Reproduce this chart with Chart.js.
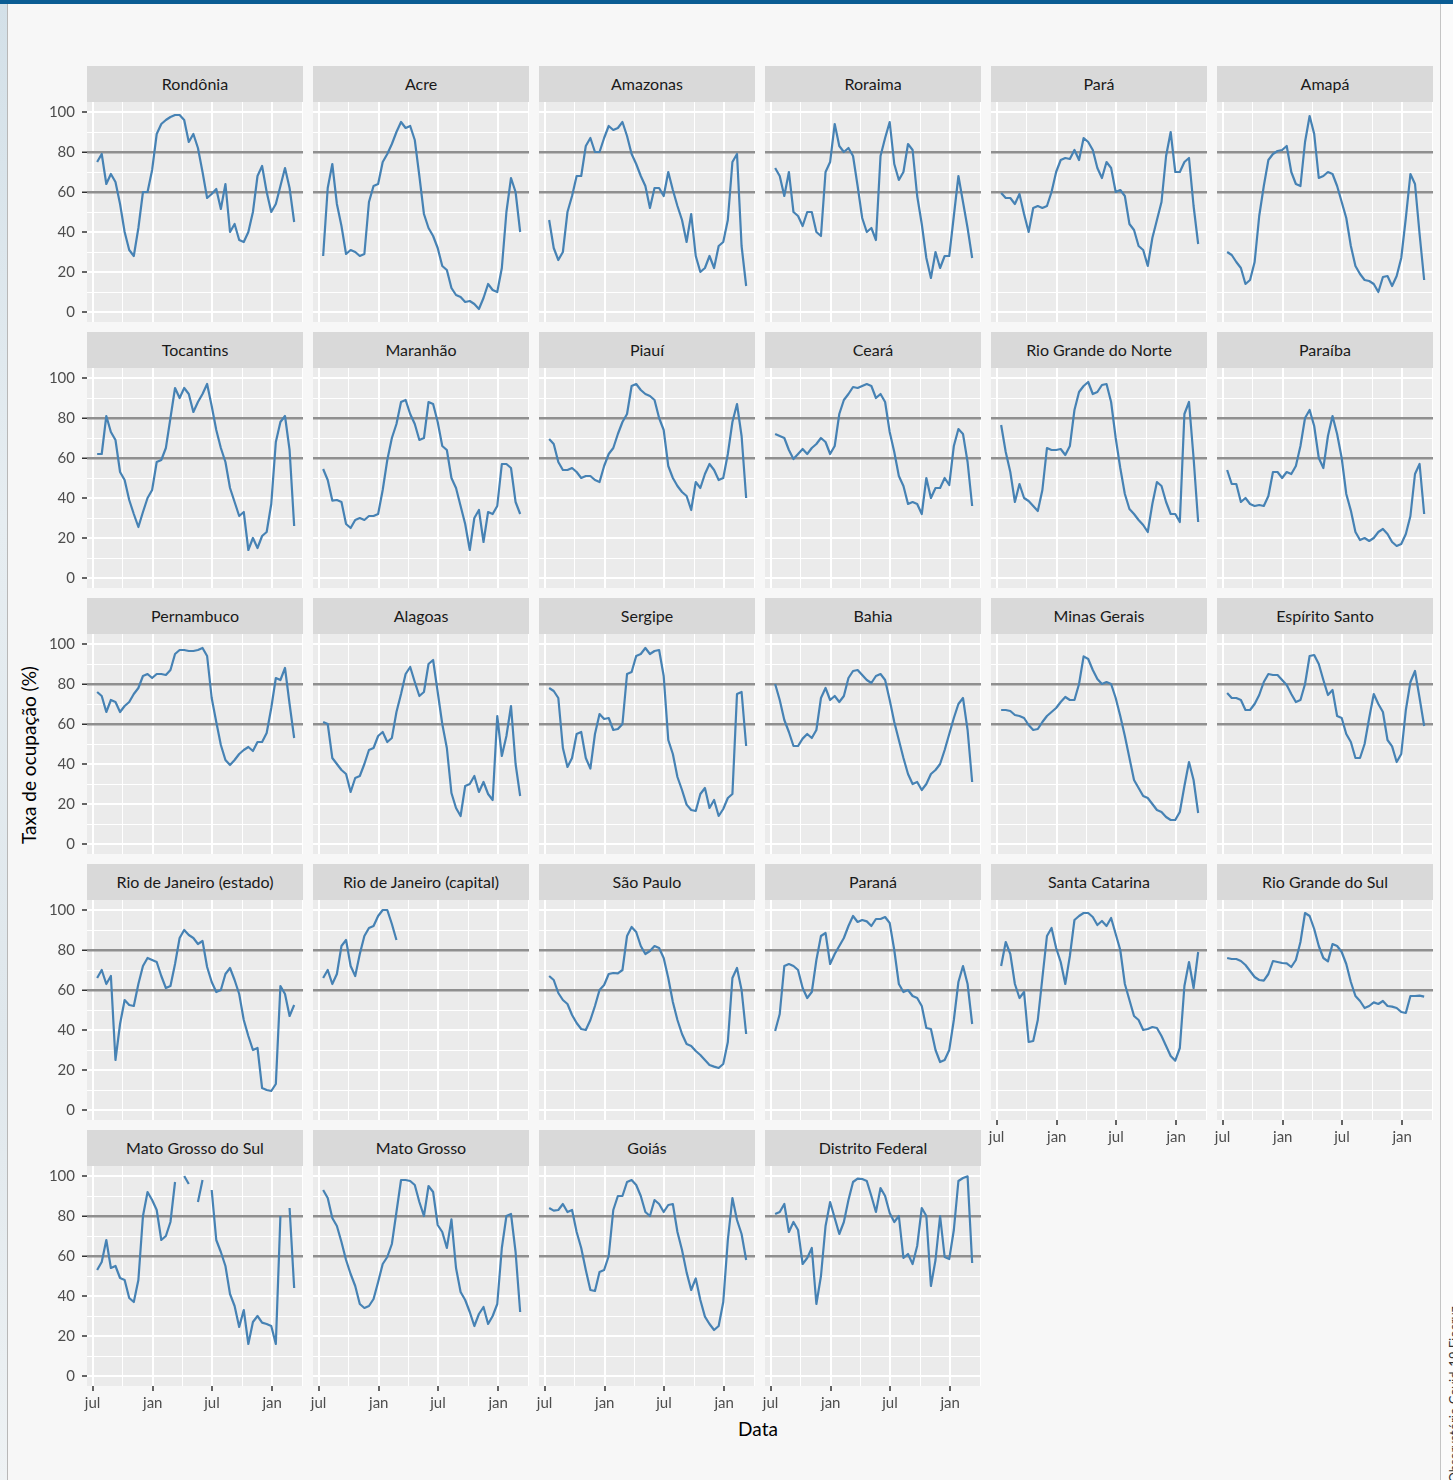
<!DOCTYPE html>
<html lang="pt-BR">
<head>
<meta charset="utf-8">
<title>Taxa de ocupação de leitos de UTI Covid-19 por UF</title>
<script src="https://cdn.jsdelivr.net/npm/chart.js@4.4.1/dist/chart.umd.min.js"></script>
<style>
  html, body { margin: 0; padding: 0; }
  body {
    width: 1453px; height: 1480px; position: relative; overflow: hidden;
    background: #f7f7f7; font-family: Lato, "Open Sans", sans-serif;
  }
  #barra { position: absolute; left: 0; top: 0; width: 1453px; height: 4px; background: #0b5d94; }
  #margemEsq {
    position: absolute; left: 0; top: 4px; width: 7px; height: 1476px;
    background: linear-gradient(180deg, #d3e0e8 0%, #e6edf1 35%, #dfe7ec 70%, #eef2f4 100%);
    border-right: 1px solid #b8b8b8;
  }
  #margemDir {
    position: absolute; left: 1440px; top: 4px; width: 13px; height: 1476px;
    background: #fbfbfb; border-left: 1px solid #c4c4c4; overflow: hidden;
  }
  #fonte {
    position: absolute; left: 6px; top: 1518px; white-space: nowrap;
    transform-origin: 0 0; transform: rotate(-90deg);
    font-size: 13px; color: #333; line-height: 14px;
  }
  .faixa {
    position: absolute; width: 216px; height: 36px; background: #d9d9d9;
    color: #1a1a1a; font-size: 16px; line-height: 36px; text-align: center; white-space: nowrap;
  }
  canvas { position: absolute; }
  #tituloY {
    position: absolute; left: 28px; top: 755px; white-space: nowrap;
    transform: translate(-50%, -50%) rotate(-90deg);
    font-size: 19px; color: #000;
  }
  #tituloX {
    position: absolute; left: 758px; top: 1428px; white-space: nowrap;
    transform: translate(-50%, -50%); font-size: 19px; color: #000;
  }
</style>
</head>
<body>
<div id="barra"></div>
<div id="margemEsq"></div>
<div id="margemDir"><div id="fonte">Fonte: Observatório Covid-19 Fiocruz</div></div>
<div id="tituloY">Taxa de ocupação (%)</div>
<div id="tituloX">Data</div>
<script>
// datas das observações (a cada 14 dias)
const datas = [
  '2020-07-15', '2020-07-29', '2020-08-12', '2020-08-26', '2020-09-09', '2020-09-23',
  '2020-10-07', '2020-10-21', '2020-11-04', '2020-11-18', '2020-12-02', '2020-12-16',
  '2020-12-30', '2021-01-13', '2021-01-27', '2021-02-10', '2021-02-24', '2021-03-10',
  '2021-03-24', '2021-04-07', '2021-04-21', '2021-05-05', '2021-05-19', '2021-06-02',
  '2021-06-16', '2021-06-30', '2021-07-14', '2021-07-28', '2021-08-11', '2021-08-25',
  '2021-09-08', '2021-09-22', '2021-10-06', '2021-10-20', '2021-11-03', '2021-11-17',
  '2021-12-01', '2021-12-15', '2021-12-29', '2022-01-12', '2022-01-26', '2022-02-09',
  '2022-02-23', '2022-03-09'
];

// taxa de ocupação de leitos de UTI (%) por UF
const rondonia    = [75,79,64,69,65,54,40,31,28,42,60,60,71,89,94,96,97.5,98.5,98.5,96,85,89,82,70,57,59,61.5,51.5,64,40,44,36,35,40,50,68,73,60,50,54,63,72,62,45];
const acre        = [28,62,74,54,43,29,31,30,28,29,55,63,64,75,79,84,90,95,92,93,86,68,49,42,38,32,23,21,12,8.5,7.5,5,5.5,4,1.5,7,14,11,10,22,50,67,60,40];
const amazonas    = [46,32,26,30,50,58,68,68,83,87,80,80,87,93,91,92,95,88,79,74,68,63,52,62,62,58,70,61,53,46,35,49,28,20,22,28,22,33,35,46,75,79,33,13];
const roraima     = [72,68,58,70,50,48,43,50,50,40,38,70,75,94,83,80,82,78,63,47,40,42,36,78,87,95,74,66,70,84,81,58,44,27,17,30,22,28,28,48,68,55,42,27];
const para        = [59.5,57,57,54,59,49,40,52,53,52,53,60,70,76,77,76.5,81,76,87,85,81,72,67,75,72,60,61,58,44,41,33,31,23,37,46,55,78,90,70,70,75,77,53,34];
const amapa       = [30,28.5,25,22,14,16,25,48,63,76,79,80.5,81,83,70,64,63,85,98,89,67,68,70,69,63,55,47,33,23,19,16,15.5,14,10,17.5,18,13,18,27,47,69,64,39,16];
const tocantins   = [62,62,81,73,69,53,49,39,32,25.5,33,40,44,58,59,65,80,95,90,95,92,83,88,92,97,86,74,65,58,45,38,31,33,14,20,15,21,23,37,68,78,81,64,26];
const maranhao    = [54.5,49,38.7,39,38,27,25,29,30,29,31,31,32,44,59,70,77,88,89,82,77,69,70,88,87,78,66,64,50,45,36,27,14,30,34,18,33,32,36,57,57,55,38,32];
const piaui       = [69.5,67,58,54,54,55,53,50,51,51,49,48,56,62,65,72,78,82,96,97,94,92,91,89,80,74,56,50,46,43,41,34,48,45,52,57,54,49,50,62,78,87,71,40];
const ceara       = [72,71,70,64,59.5,62,64.5,62,65,67,70,68,62,66,82,89,92,95.5,95,96,97,96,90,92,88,73,63,51,46,37,38,37,32,50,40,45,45,50,46.5,66,74.5,72,58,36];
const rnNorte     = [76.5,63,53,38,47,40,38.5,36,33.5,44,65,64,64,64.5,61.5,66,84,93,96,98,92,93,96.5,97,88,70,55,42,34.5,32,29,26.5,23,37,48,46,38,32,32,28,82,88,60,28];
const paraiba     = [54,47,47,38,40,37,36,36.5,36,41,53,53,50,53,52,56,66,80,84,76,60,55,71,81,72,60,42,33.7,23,19,20,18.5,20,23,24.5,22,18,16,17,22,31,52,57,32];
const pernambuco  = [76,74,66,72,71,66,69,71,75,78,84,85,83,85,85,84.5,87,95,97,97,96.5,96.5,97,98,94,73,61,49.5,42,39.5,42,45,47,48.5,46.5,51,51,55.5,68,83,82,88,70,53];
const alagoas     = [61,60,43,40,37,35,26,33,34,40,47,48,54,56,51,53,66,75,85,88.5,81,74,76,90,92,76,60,48,25.5,18,14,29,30,34,26,31,25,22,64,44,54,69,40,24];
const sergipe     = [78,76.5,73,48,38.5,43,55,56,43,37.7,55,65,62.5,63,57,57.5,60,85,86,94,95,98,95,96.5,97,84,52,45,33.5,27,19.7,17,16.5,25,28,18,22,14,17.5,23,25,75,76,49];
const bahia       = [80,72,62,56,49,49,52.7,55,53,57,73,78,72,74,71,74,83,86.5,87,84.5,82,80.5,84,85,82,72,61,52,43,35,30,31,27,30,35,37,40,47,55,63,70,73,57,31];
const minas       = [67,67,66.5,64.5,64,63,59.5,57,57.5,61,64,66,68,71,73.5,72,72,80,93.8,92.5,87,82.5,80,81,80,73,64,54,43,32,28,24,23,20,17,16,13.5,12,12,16,29,41,32,15.5];
const espSanto    = [75.5,73,73,72,67,67,70,74.5,81,85,84.5,84.5,82,79.5,75,71,72,80,94,94.5,90,82,74.5,77,64,63,55,51,43,43,50,63,75,70,66,52,48.8,41,45,67,81,86.5,73,59];
const rjEstado    = [66,70,63,67,25,43,55,52.5,52,63,72,76,75,74,67,61,62,73,86,90,87.5,86,83,84.5,71.5,64,59,60,68,71,65,58,45,37,30,31,11,10,9.5,13,62,58,47,52.5];
const rjCapital   = [66,70,63,68,82,85,72,67,78,87,91,92,97,100,100,93,85,null,null,null,null,null,null,null,null,null,null,null,null,null,null,null,null,null,null,null,null,null,null,null,null,null,null,null];
const saoPaulo    = [67,65,58.5,55,53,47.5,43.5,40.5,40,45,52,60,62.5,68,68.5,68.3,70,87,91.5,89,82,78,79.5,82,81,76,66,54,45,38,33,32,29.5,27.5,25,22.5,21.7,21,23,34,66,71,60,38];
const parana      = [39.5,48,72,73,72,70,61,56,59,75,87,88.5,73,78,82,86,92,97,94,95,94.3,92,95.5,95.5,96.5,93.5,80,63,59,60,57,56,52,41,40.5,30,24,25,30,45,64,72,63,43];
const stCatarina  = [72,84,78,63,56,59,34,34.5,45,66,87,91,81,74,63,77,95,97,98.5,98.5,96.5,92.5,94.5,92,96,88,80,63,55,47,45,40,40.5,41.5,41,37,32,27,24.7,31,62,74,61,79];
const rgSul       = [76,75.5,75.5,74.5,72.5,69.5,66.5,65,64.7,68,74.5,74,73.5,73.3,71.5,75,84,98.5,97,90.5,82,76,74.3,83,82,79,73,64,57,54.5,51,52,53.8,53,54.5,52,51.7,51,49,48.5,57,57,57.2,56.7];
const msSul       = [53,57,68,54,55,49,48,39,37,48,80,92,88,83,68,70,77,97,null,100,96,null,87,98,null,93,68,62,55,41,35,24.5,33,16,27,30,26.7,26,25,16,80,null,84,44];
const matoGrosso  = [93,89,79,75,67,58,51,45,36,34,35,38.5,47,56,59.5,66,82,98,98,97.5,95.5,87,80,95,92,75.5,72,64,78.3,54,42,38,32,25,31,34.5,26,30,36,64,80,81,62,32];
const goias       = [84,82.7,83,86,82,83,72,64,53,43,42.5,52,53,60,83,90,90,97,98,95.5,90,82,80,88,86,82,85.5,86,72,63,51.8,43,48.8,38,29.7,26,23,25,37,68,89,78,71,58];
const distFederal = [81,82,86,72,77,73,56,59,64,36,50,75,87,79,71,77,88,97,98.7,98.5,97.5,90,82,94,90,81.5,77,80,59,61,56,65,84,80,45,58,80,59.5,58.5,73,97.5,99,99.8,56.5];

// painéis na ordem em que aparecem
const nomes = [
  'Rondônia', 'Acre', 'Amazonas', 'Roraima', 'Pará', 'Amapá',
  'Tocantins', 'Maranhão', 'Piauí', 'Ceará', 'Rio Grande do Norte', 'Paraíba',
  'Pernambuco', 'Alagoas', 'Sergipe', 'Bahia', 'Minas Gerais', 'Espírito Santo',
  'Rio de Janeiro (estado)', 'Rio de Janeiro (capital)', 'São Paulo', 'Paraná', 'Santa Catarina', 'Rio Grande do Sul',
  'Mato Grosso do Sul', 'Mato Grosso', 'Goiás', 'Distrito Federal'
];
const series = [
  rondonia, acre, amazonas, roraima, para, amapa,
  tocantins, maranhao, piaui, ceara, rnNorte, paraiba,
  pernambuco, alagoas, sergipe, bahia, minas, espSanto,
  rjEstado, rjCapital, saoPaulo, parana, stCatarina, rgSul,
  msSul, matoGrosso, goias, distFederal
];

// eixos
const marcasX = ['2020-07-01', '2021-01-01', '2021-07-01', '2022-01-01'];
const rotulosX = ['jul', 'jan', 'jul', 'jan'];
const marcasY = [0, 20, 40, 60, 80, 100];
const linhasRef = [60, 80];

Chart.defaults.font.family = 'Lato';
Chart.defaults.color = '#4d4d4d';

function dia(s) {
  const [a, m, d] = s.split('-').map(Number);
  return (Date.UTC(a, m - 1, d) - Date.UTC(2020, 6, 1)) / 864e5;
}

const xDatas = datas.map(dia);
const xMaior = marcasX.map(dia);
// linhas secundárias no meio das principais (como no ggplot)
const xMenor = xMaior.map((v, i) => i < xMaior.length - 1 ? (v + xMaior[i + 1]) / 2 : v + (v - xMaior[i - 1]) / 2);
const gradeX = [...xMaior, ...xMenor].sort((a, b) => a - b);
const gradeY = [];
for (let v = 0; v <= 100; v += 10) gradeY.push(v);

const fundoPainel = {
  id: 'fundoPainel',
  beforeDraw(chart) {
    const { ctx, chartArea: a } = chart;
    ctx.save();
    ctx.fillStyle = '#ebebeb';
    ctx.fillRect(a.left, a.top, a.right - a.left, a.bottom - a.top);
    ctx.restore();
  }
};

const X0 = 87, Y0 = 102, PASSO_X = 226, PASSO_Y = 266, LARG = 216, ALT = 220;

series.forEach((valores, k) => {
  const lin = Math.floor(k / 6), col = k % 6;
  const base = lin === 4 || (lin === 3 && col >= 4);
  const esq = col === 0;
  const pl = X0 + PASSO_X * col, pt = Y0 + PASSO_Y * lin;

  const faixa = document.createElement('div');
  faixa.className = 'faixa';
  faixa.style.left = pl + 'px';
  faixa.style.top = (pt - 36) + 'px';
  faixa.textContent = nomes[k];
  document.body.appendChild(faixa);

  const mL = esq ? 60 : 14, mR = 8, mT = 10, mB = base ? 34 : 0;
  const cv = document.createElement('canvas');
  cv.width = mL + LARG + mR;
  cv.height = mT + ALT + mB;
  cv.style.left = (pl - mL) + 'px';
  cv.style.top = (pt - mT) + 'px';
  document.body.appendChild(cv);

  new Chart(cv, {
    type: 'line',
    data: {
      datasets: [{
        data: valores.map((v, i) => ({ x: xDatas[i], y: v })),
        borderColor: '#4682b4',
        borderWidth: 2.2,
        pointRadius: 0,
        tension: 0,
        spanGaps: false,
        borderJoinStyle: 'round'
      }]
    },
    options: {
      responsive: false,
      animation: false,
      devicePixelRatio: 1,
      events: [],
      layout: { padding: { left: esq ? mL - 50 : mL, right: mR, top: mT, bottom: 0 } },
      plugins: { legend: { display: false }, tooltip: { enabled: false } },
      scales: {
        x: {
          type: 'linear',
          min: -17,
          max: 643,
          afterBuildTicks: s => { s.ticks = gradeX.map(v => ({ value: v })); },
          afterFit: s => {
            s.height = mB;
            s.paddingLeft = s.paddingRight = s.paddingTop = s.paddingBottom = 0;
          },
          border: { display: false },
          grid: {
            color: '#ffffff',
            lineWidth: c => xMaior.includes(c.tick.value) ? 2 : 1,
            drawTicks: base,
            tickLength: 5,
            tickWidth: 1.5,
            tickColor: c => xMaior.includes(c.tick.value) ? '#333333' : 'rgba(0,0,0,0)'
          },
          ticks: {
            display: base,
            autoSkip: false,
            maxRotation: 0,
            padding: 3,
            color: '#4d4d4d',
            font: { size: 15 },
            callback: v => {
              const i = xMaior.indexOf(v);
              return i >= 0 ? rotulosX[i] : '';
            }
          }
        },
        y: {
          min: -5,
          max: 105,
          afterBuildTicks: s => { s.ticks = gradeY.map(v => ({ value: v })); },
          afterFit: s => {
            s.width = esq ? 50 : 0;
            s.paddingLeft = s.paddingRight = s.paddingTop = s.paddingBottom = 0;
          },
          border: { display: false },
          grid: {
            color: c => linhasRef.includes(c.tick.value) ? '#8f8f8f' : '#ffffff',
            lineWidth: c => linhasRef.includes(c.tick.value) ? 2.5 : (marcasY.includes(c.tick.value) ? 2 : 1),
            drawTicks: esq,
            tickLength: 5,
            tickWidth: 1.5,
            tickColor: c => marcasY.includes(c.tick.value) ? '#333333' : 'rgba(0,0,0,0)'
          },
          ticks: {
            display: esq,
            autoSkip: false,
            padding: 7,
            color: '#4d4d4d',
            font: { size: 15 },
            callback: v => marcasY.includes(v) ? String(v) : ''
          }
        }
      }
    },
    plugins: [fundoPainel]
  });
});
</script>
</body>
</html>
